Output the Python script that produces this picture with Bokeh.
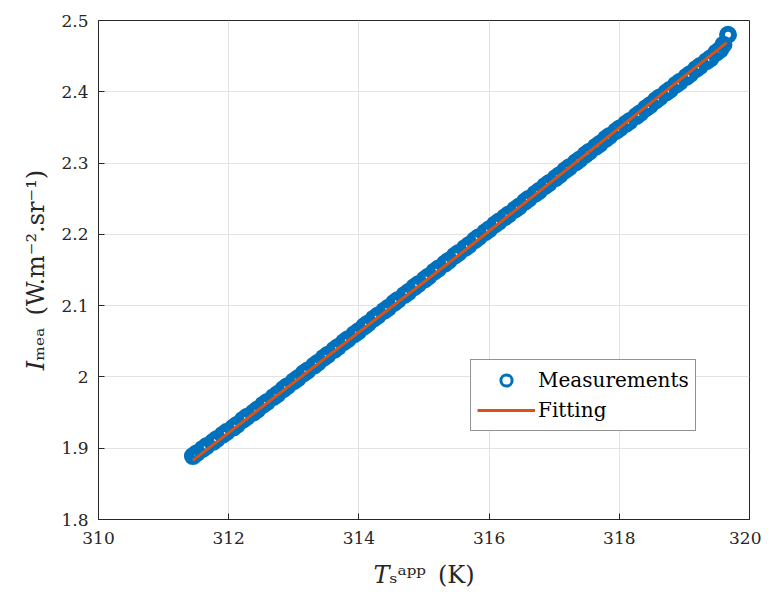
from bokeh.plotting import figure
from bokeh.models import FixedTicker, Range1d, Legend, LegendItem
from bokeh.embed import file_html
from bokeh.resources import INLINE

# measured points (apparent temperature K, radiance) - readings come in close pairs
t_meas = [311.45, 311.51, 311.60, 311.66, 311.76, 311.82, 311.91, 311.97, 312.07, 312.13,
          312.22, 312.28, 312.38, 312.44, 312.53, 312.59, 312.69, 312.75, 312.84, 312.90,
          313.00, 313.06, 313.15, 313.21, 313.31, 313.37, 313.46, 313.52, 313.62, 313.68,
          313.77, 313.83, 313.93, 313.99, 314.08, 314.14, 314.23, 314.29, 314.39, 314.45,
          314.54, 314.60, 314.70, 314.76, 314.85, 314.91, 315.01, 315.07, 315.16, 315.22,
          315.32, 315.38, 315.47, 315.53, 315.63, 315.69, 315.78, 315.84, 315.94, 316.00,
          316.09, 316.15, 316.24, 316.30, 316.40, 316.46, 316.55, 316.61, 316.71, 316.77,
          316.86, 316.92, 317.02, 317.08, 317.17, 317.23, 317.33, 317.39, 317.48, 317.54,
          317.64, 317.70, 317.79, 317.85, 317.95, 318.01, 318.10, 318.16, 318.26, 318.32,
          318.41, 318.47, 318.56, 318.62, 318.72, 318.78, 318.87, 318.93, 319.03, 319.09,
          319.18, 319.24, 319.34, 319.40, 319.49, 319.55, 319.60, 319.67]
i_meas = [1.889, 1.893, 1.899, 1.903, 1.909, 1.913, 1.919, 1.923, 1.929, 1.933,
          1.940, 1.944, 1.950, 1.954, 1.961, 1.965, 1.972, 1.976, 1.983, 1.987,
          1.994, 1.998, 2.005, 2.009, 2.016, 2.020, 2.027, 2.031, 2.038, 2.042,
          2.049, 2.053, 2.060, 2.064, 2.071, 2.075, 2.082, 2.086, 2.093, 2.097,
          2.104, 2.108, 2.115, 2.119, 2.126, 2.130, 2.137, 2.141, 2.148, 2.152,
          2.159, 2.163, 2.170, 2.174, 2.181, 2.185, 2.192, 2.196, 2.203, 2.207,
          2.214, 2.218, 2.224, 2.228, 2.235, 2.239, 2.246, 2.250, 2.257, 2.261,
          2.268, 2.272, 2.279, 2.283, 2.290, 2.294, 2.301, 2.305, 2.312, 2.316,
          2.323, 2.327, 2.334, 2.338, 2.345, 2.349, 2.355, 2.359, 2.366, 2.370,
          2.377, 2.381, 2.388, 2.392, 2.399, 2.403, 2.410, 2.414, 2.421, 2.425,
          2.432, 2.436, 2.443, 2.447, 2.455, 2.459, 2.466, 2.480]
# fitted curve
t_fit = [311.45, 315.55, 319.65]
i_fit = [1.883, 2.172, 2.469]

x_ticks = [310, 312, 314, 316, 318, 320]
y_ticks = [1.8, 1.9, 2.0, 2.1, 2.2, 2.3, 2.4, 2.5]
y_tick_labels = ["1.8", "1.9", "2", "2.1", "2.2", "2.3", "2.4", "2.5"]

BLUE = "#0072BD"
ORANGE = "#D95319"
AX = "#262626"
FONT = "DejaVu Serif"

p = figure(frame_width=651, frame_height=499, output_backend="svg", toolbar_location=None,
           x_range=Range1d(310, 320), y_range=Range1d(1.8, 2.5),
           min_border_left=98, min_border_right=12, min_border_top=20, min_border_bottom=70)
p.outline_line_color = AX
p.outline_line_width = 1
p.background_fill_color = "white"
p.border_fill_color = "white"

# legend-only glyph (smaller marker, as in the reference legend); hidden under the first point
r_leg = p.scatter(t_meas[:1], i_meas[:1], marker="circle", size=7, line_width=3,
                  line_color=BLUE, fill_color=None)
r_meas = p.scatter(t_meas, i_meas, marker="circle", size=12, line_width=6,
                   line_color=BLUE, fill_color=None)
r_fit = p.line(t_fit, i_fit, line_color=ORANGE, line_width=3)

for ax in p.xaxis + p.yaxis:
    ax.major_tick_in = 6
    ax.major_tick_out = 0
    ax.minor_tick_in = 0
    ax.minor_tick_out = 0
    ax.axis_line_color = AX
    ax.major_tick_line_color = AX
    ax.major_label_text_font = FONT
    ax.major_label_text_font_size = "17px"
    ax.major_label_text_color = AX
    ax.axis_label_text_font = FONT
    ax.axis_label_text_font_size = "24px"
    ax.axis_label_text_font_style = "normal"
    ax.axis_label_text_color = AX

p.xaxis.ticker = FixedTicker(ticks=x_ticks)
p.yaxis.ticker = FixedTicker(ticks=y_ticks)
p.yaxis.major_label_overrides = {v: s for v, s in zip(y_ticks, y_tick_labels)}
p.xaxis.major_label_standoff = 12
p.yaxis.major_label_standoff = 10
p.xaxis.axis_label = "𝑇ₛᵃᵖᵖ\u2002(K)"
p.yaxis.axis_label = "𝐼ₘₑₐ\u2002(W.m⁻².sr⁻¹)"
p.xaxis.axis_label_standoff = 14
p.yaxis.axis_label_standoff = 8

p.xgrid.ticker = FixedTicker(ticks=x_ticks)
p.ygrid.ticker = FixedTicker(ticks=y_ticks)
p.grid.grid_line_color = "#e3e3e3"
p.grid.grid_line_width = 1

legend = Legend(items=[LegendItem(label="Measurements", renderers=[r_leg]),
                       LegendItem(label="Fitting", renderers=[r_fit])],
                location=(372, 88))
legend.border_line_color = AX
legend.border_line_width = 1
legend.label_text_font = FONT
legend.label_text_font_size = "20px"
legend.label_text_color = "black"
legend.glyph_width = 58
legend.glyph_height = 28
legend.label_standoff = 3
legend.spacing = 2
legend.padding = 6
legend.margin = 0
legend.background_fill_alpha = 1
p.add_layout(legend, "center")

open("out.html", "w").write(file_html(p, INLINE))
